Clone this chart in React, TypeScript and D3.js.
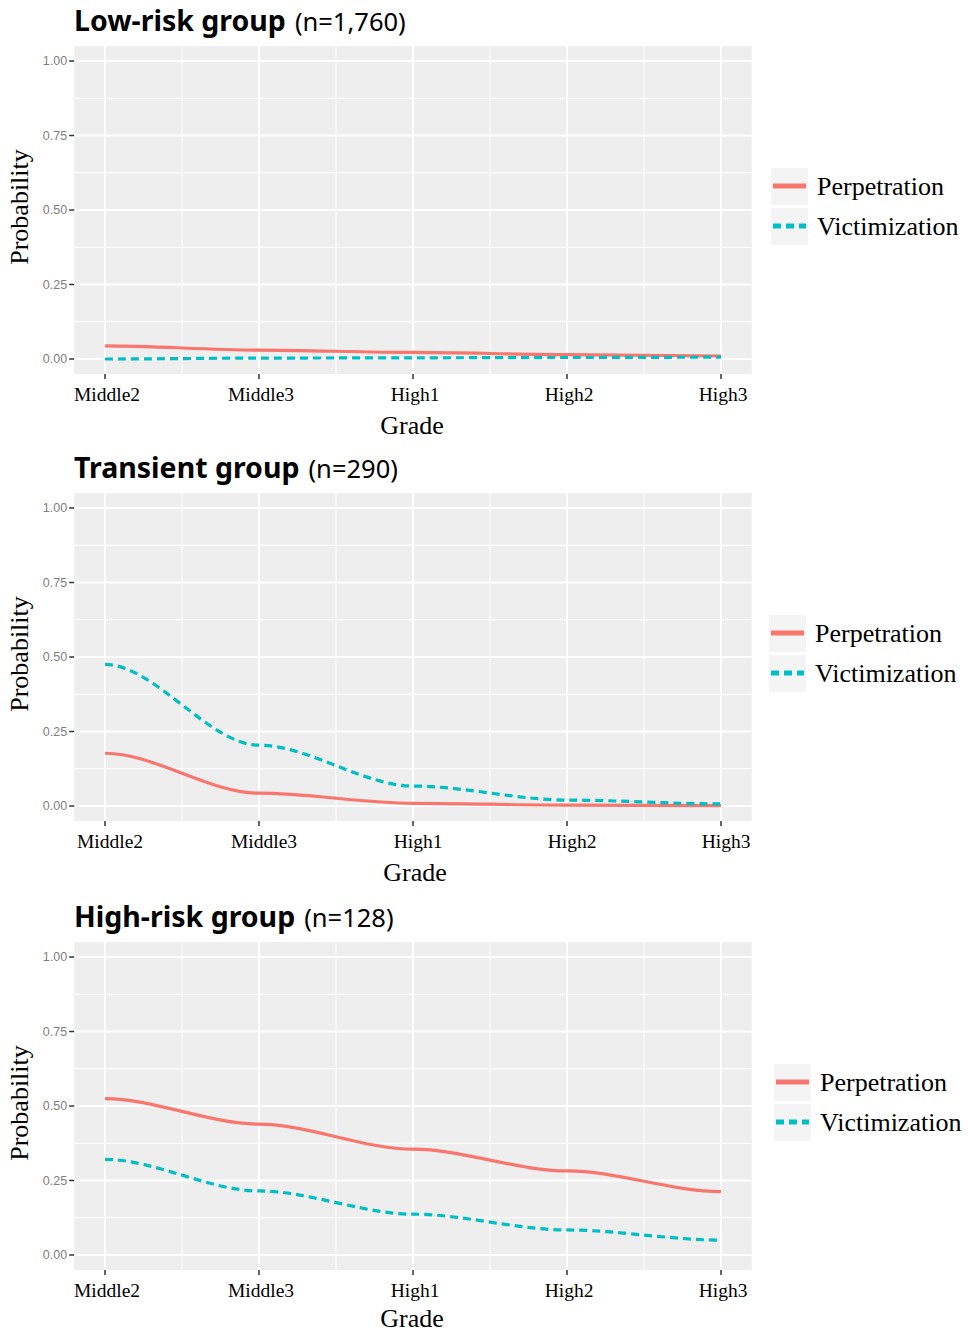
import React from 'react';
import * as d3 from 'd3';

const grades = ['Middle2', 'Middle3', 'High1', 'High2', 'High3'];
const yTicks = [0, 0.25, 0.5, 0.75, 1];
const yMinor = [0.125, 0.375, 0.625, 0.875];
const xMinor = [0.5, 1.5, 2.5, 3.5];

const groupTitles = ['Low-risk group', 'Transient group', 'High-risk group'];
const groupSizes = ['(n=1,760)', '(n=290)', '(n=128)'];

const lowPerp = [0.044, 0.03, 0.022, 0.015, 0.01];
const lowVict = [0.0, 0.003, 0.004, 0.005, 0.006];
const transPerp = [0.177, 0.043, 0.009, 0.003, 0.001];
const transVict = [0.475, 0.204, 0.067, 0.02, 0.007];
const highPerp = [0.525, 0.439, 0.355, 0.282, 0.213];
const highVict = [0.321, 0.215, 0.137, 0.084, 0.05];

const seriesNames = ['Perpetration', 'Victimization'];
const seriesColors = ['#F8766D', '#00BFC4'];

const panelData = [
  [lowPerp, lowVict],
  [transPerp, transVict],
  [highPerp, highVict],
];

// small per-panel shifts seen in the scanned figure
const panelOffsets = [0, 447, 896];
const labelShift = [0, 3, 0];
const legendShift = [0, -2, 3];

const serif = '"Liberation Serif", "Times New Roman", serif';
const sans = '"Liberation Sans", Arial, sans-serif';

const x = d3.scaleLinear().domain([0, 4]).range([105, 721]);
const y = d3.scaleLinear().domain([0, 1]).range([359, 61]);

// smooth curve with flat tangents at each point, shorter flats than curveBumpX
function softBump(context: any) {
  let x0 = 0;
  let y0 = 0;
  let first = true;
  const k = 0.32;
  return {
    lineStart() {
      first = true;
    },
    lineEnd() {},
    areaStart() {},
    areaEnd() {},
    point(px: number, py: number) {
      if (first) {
        context.moveTo(px, py);
        first = false;
      } else {
        const dx = px - x0;
        context.bezierCurveTo(x0 + dx * k, y0, px - dx * k, py, px, py);
      }
      x0 = px;
      y0 = py;
    },
  };
}

const line = d3
  .line<number>()
  .x((_, i) => x(i))
  .y((d) => y(d))
  .curve(softBump as any);

const Panel: React.FC<{ idx: number }> = ({ idx }) => {
  const dy = panelOffsets[idx];
  const [x0, x1] = [x(-0.2), x(4.2)];
  const [yTop, yBot] = [y(1.05), y(-0.05)];
  const ls = labelShift[idx];
  const lg = legendShift[idx];
  return (
    <g transform={`translate(0,${dy})`}>
      <text x={74} y={31} fontFamily='"Noto Sans", "Open Sans", sans-serif' fill="#000">
        <tspan fontWeight="bold" fontSize={28.5}>{groupTitles[idx]}</tspan>
        <tspan dx={9} fontSize={25.5}>{groupSizes[idx]}</tspan>
      </text>

      <rect x={x0} y={yTop} width={x1 - x0} height={yBot - yTop} fill="#eeeeee" />
      {yMinor.map((t) => (
        <line key={'ym' + t} x1={x0} x2={x1} y1={y(t)} y2={y(t)} stroke="#fff" strokeWidth={1} />
      ))}
      {xMinor.map((t) => (
        <line key={'xm' + t} x1={x(t)} x2={x(t)} y1={yTop} y2={yBot} stroke="#fff" strokeWidth={1} />
      ))}
      {yTicks.map((t) => (
        <line key={'y' + t} x1={x0} x2={x1} y1={y(t)} y2={y(t)} stroke="#fff" strokeWidth={2} />
      ))}
      {grades.map((g, i) => (
        <line key={'x' + g} x1={x(i)} x2={x(i)} y1={yTop} y2={yBot} stroke="#fff" strokeWidth={2} />
      ))}

      {yTicks.map((t) => (
        <g key={'yt' + t}>
          <line x1={x0 - 5} x2={x0} y1={y(t)} y2={y(t)} stroke="#333" strokeWidth={1.5} />
          <text
            x={x0 - 7}
            y={y(t)}
            dy="0.35em"
            textAnchor="end"
            fontFamily={sans}
            fontSize={12.5}
            fill="#7f7f7f"
          >
            {t.toFixed(2)}
          </text>
        </g>
      ))}
      {grades.map((g, i) => (
        <g key={'xt' + g}>
          <line x1={x(i)} x2={x(i)} y1={yBot} y2={yBot + 5} stroke="#333" strokeWidth={1.5} />
          <text
            x={x(i) + 2 + ls}
            y={401}
            textAnchor="middle"
            fontFamily={serif}
            fontSize={19.5}
            fill="#000"
          >
            {g}
          </text>
        </g>
      ))}

      <text
        x={412 + ls}
        y={idx === 2 ? 431 : 434}
        textAnchor="middle"
        fontFamily={serif}
        fontSize={26}
        fill="#000"
      >
        Grade
      </text>
      <text
        transform={`translate(28,${(y(0) + y(1)) / 2 - 3}) rotate(-90)`}
        textAnchor="middle"
        fontFamily={serif}
        fontSize={26}
        fill="#000"
      >
        Probability
      </text>

      {panelData[idx].map((vals, s) => (
        <path
          key={seriesNames[s]}
          d={line(vals) || ''}
          fill="none"
          stroke={seriesColors[s]}
          strokeWidth={3.2}
          strokeDasharray={s === 1 ? '8,5' : undefined}
        />
      ))}

      {seriesNames.map((name, s) => {
        const ky = 168 + s * 40;
        const kx = 771 + lg;
        return (
          <g key={'lg' + name}>
            <rect x={kx} y={ky} width={37} height={37} fill="#f4f4f4" />
            <line
              x1={kx + 2}
              x2={kx + 35}
              y1={ky + 18}
              y2={ky + 18}
              stroke={seriesColors[s]}
              strokeWidth={5}
              strokeDasharray={s === 1 ? '8,5' : undefined}
            />
            <text x={kx + 46} y={ky + 27} fontFamily={serif} fontSize={26} fill="#000">
              {name}
            </text>
          </g>
        );
      })}
    </g>
  );
};

export default function App() {
  return (
    <div style={{ position: 'absolute', left: 0, top: 0 }}>
      <svg width={968} height={1333} style={{ display: 'block', background: '#fff' }}>
        {panelData.map((_, i) => (
          <Panel key={i} idx={i} />
        ))}
      </svg>
    </div>
  );
}
